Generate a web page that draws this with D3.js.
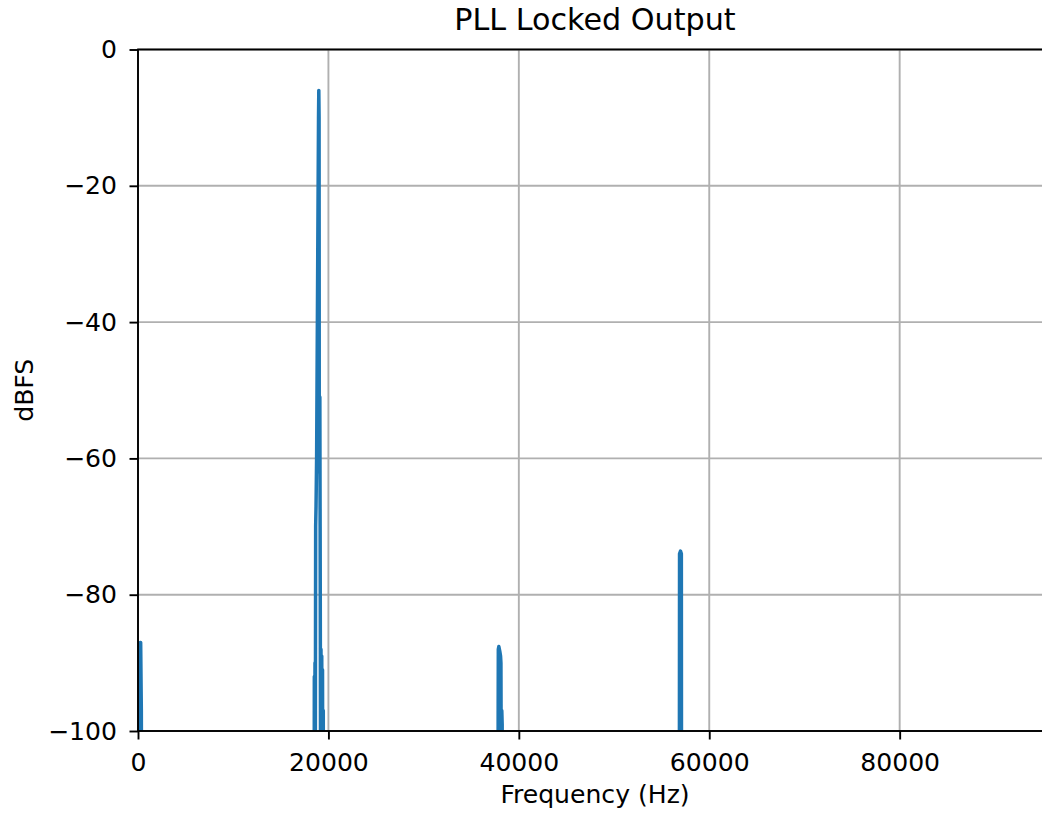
<!DOCTYPE html>
<html>
<head>
<meta charset="utf-8">
<script src="https://cdn.jsdelivr.net/npm/d3@7"></script>
<style>
  html, body { margin: 0; padding: 0; background: #fff; }
  svg { display: block; font-family: "DejaVu Sans", sans-serif; }
</style>
</head>
<body>
<svg id="chart" width="1042" height="813"></svg>
<script>
// Spectrum of the locked PLL output: frequency (Hz) and level (dBFS).
// Bins far below the noise floor sit at -140 dBFS and are clipped by the axis.
const freqHz = [
  0, 150, 220, 280, 350, 420,
  18480, 18520, 18550, 18590, 18620, 18660, 18700, 18760, 18960, 18990, 19020, 19040, 19100, 19130, 19150,
  19180, 19220, 19260, 19300, 19340, 19380, 19420, 19460, 19500,
  37780, 37830, 37845, 37900, 38000, 38080, 38120, 38170, 38210, 38250, 38300,
  56850, 56880, 56980, 57070, 57100,
  96000
];
const levelDb = [
  -140, -140, -87, -87, -97, -140,
  -140, -92, -118, -90, -112, -70, -67, -60, -10, -6, -10, -62, -51, -70, -85,
  -112, -88, -118, -89, -115, -91, -120, -97, -140,
  -140, -96, -88, -87.6, -88.3, -89, -90, -115, -97, -99, -140,
  -140, -74, -73.6, -74, -140,
  -140
];

const title = "PLL Locked Output";
const xLabel = "Frequency (Hz)";
const yLabel = "dBFS";
const xTicks = [0, 20000, 40000, 60000, 80000];
const yTicks = [0, -20, -40, -60, -80, -100];
const xDomain = [0, 96000];
const yDomain = [-100, 0];

const data = freqHz.map((f, i) => ({ f, db: levelDb[i] }));

const svg = d3.select("#chart");
const box = { left: 138, top: 49.5, right: 1052, bottom: 731 };
const fontSize = 25.1;
const titleSize = 30.2;
const lw = 1.9;

const x = d3.scaleLinear().domain(xDomain).range([box.left, box.right]);
const y = d3.scaleLinear().domain(yDomain).range([box.bottom, box.top]);

const fmtMinus = d => (d < 0 ? "\u2212" + Math.abs(d) : String(d));

// Grid
const grid = svg.append("g").attr("stroke", "#b0b0b0").attr("stroke-width", lw);
xTicks.forEach(t => {
  grid.append("line")
    .attr("x1", x(t)).attr("x2", x(t))
    .attr("y1", box.top).attr("y2", box.bottom);
});
yTicks.forEach(t => {
  grid.append("line")
    .attr("x1", box.left).attr("x2", box.right)
    .attr("y1", y(t)).attr("y2", y(t));
});

// Spectrum line clipped to the axes area
svg.append("clipPath").attr("id", "plotClip")
  .append("rect")
  .attr("x", box.left).attr("y", box.top)
  .attr("width", box.right - box.left)
  .attr("height", box.bottom - box.top);

const line = d3.line().x(d => x(d.f)).y(d => y(d.db));
svg.append("path")
  .datum(data)
  .attr("clip-path", "url(#plotClip)")
  .attr("fill", "none")
  .attr("stroke", "#1f77b4")
  .attr("stroke-width", 3.5)
  .attr("stroke-linejoin", "round")
  .attr("stroke-linecap", "butt")
  .attr("d", line);

// Axes
const xAxis = d3.axisBottom(x).tickValues(xTicks).tickFormat(d => String(d))
  .tickSizeOuter(0).tickSize(8.5).tickPadding(13.2);
const yAxis = d3.axisLeft(y).tickValues(yTicks).tickFormat(fmtMinus)
  .tickSizeOuter(0).tickSize(8.5).tickPadding(12.5);

const gx = svg.append("g").attr("transform", `translate(0,${box.bottom})`).call(xAxis);
const gy = svg.append("g").attr("transform", `translate(${box.left},0)`).call(yAxis);
[gx, gy].forEach(g => {
  g.select(".domain").remove();
  g.selectAll(".tick line").attr("stroke", "#000").attr("stroke-width", lw);
  g.selectAll(".tick text").attr("fill", "#000").attr("font-size", fontSize)
    .attr("font-family", "DejaVu Sans, sans-serif");
});

// Spines
svg.append("rect")
  .attr("x", box.left).attr("y", box.top)
  .attr("width", box.right - box.left)
  .attr("height", box.bottom - box.top)
  .attr("fill", "none").attr("stroke", "#000").attr("stroke-width", lw);

// Labels
svg.append("text")
  .attr("x", (box.left + box.right) / 2).attr("y", 30)
  .attr("text-anchor", "middle").attr("font-size", titleSize).attr("fill", "#000")
  .text(title);
svg.append("text")
  .attr("x", (box.left + box.right) / 2).attr("y", 803)
  .attr("text-anchor", "middle").attr("font-size", fontSize).attr("fill", "#000")
  .text(xLabel);
svg.append("text")
  .attr("transform", `translate(33,${(box.top + box.bottom) / 2}) rotate(-90)`)
  .attr("text-anchor", "middle").attr("font-size", fontSize).attr("fill", "#000")
  .text(yLabel);
</script>
</body>
</html>
